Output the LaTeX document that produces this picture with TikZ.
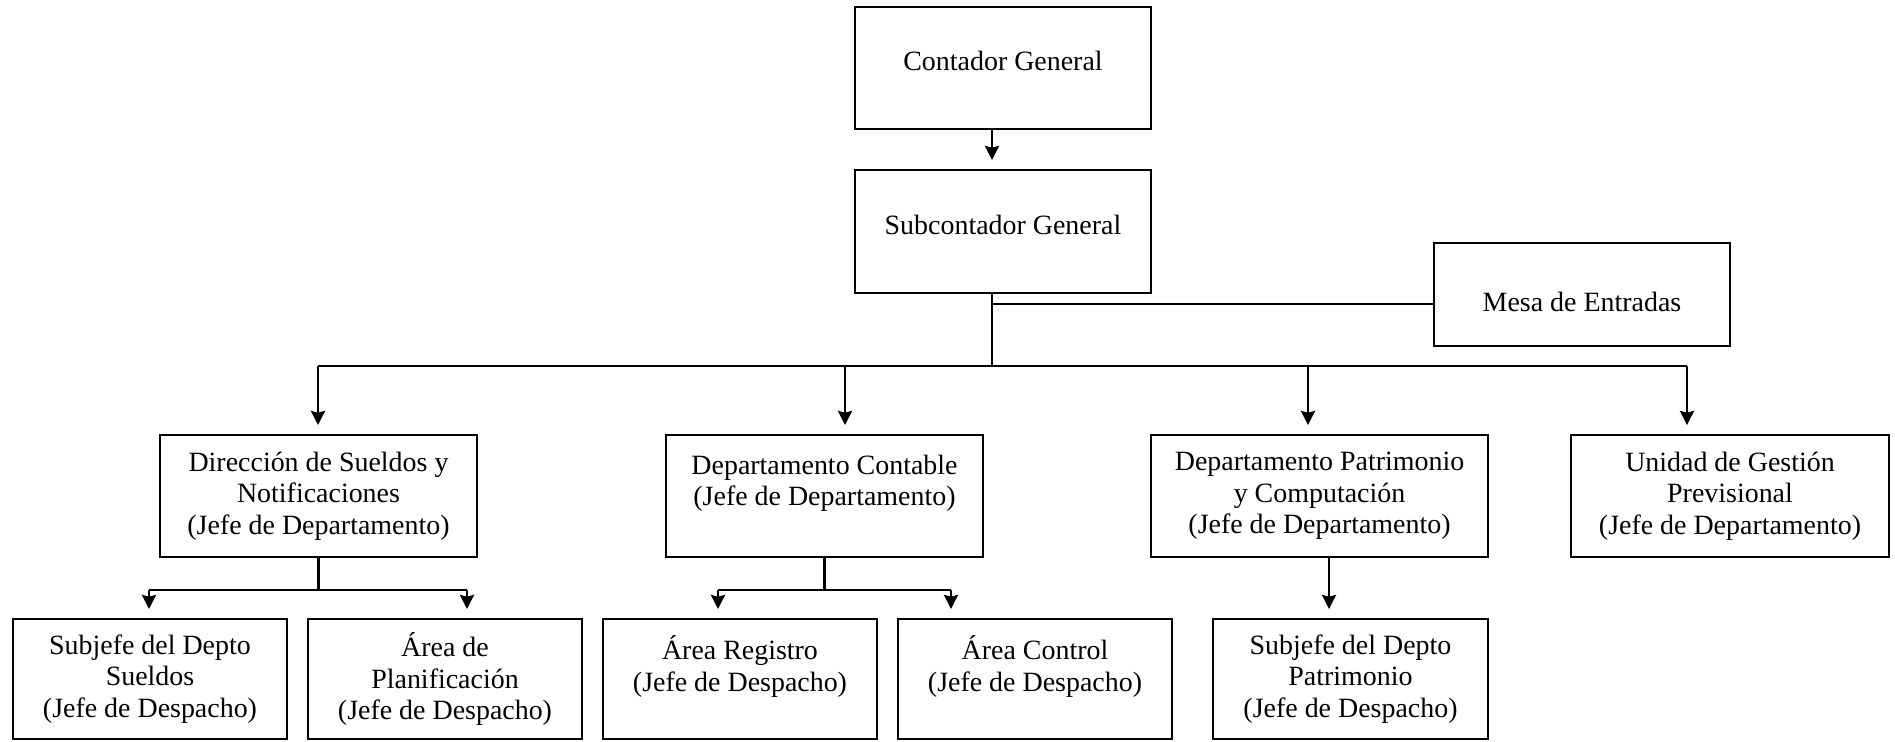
\documentclass[tikz,border=0pt]{standalone}
\usepackage{fontspec}
\setmainfont{Liberation Serif}
\usetikzlibrary{arrows.meta}

\begin{document}
\begin{tikzpicture}[x=0.02cm, y=-0.02cm,
  box/.style={draw, line width=1.4pt, rectangle, align=center, inner sep=2pt,
    font=\fontsize{15.9}{17.9}\selectfont, minimum height=2.44cm},
  arr/.style={line width=1.4pt, -{Stealth[length=8pt, width=8pt, inset=1pt]}, shorten >=5pt},
  link/.style={line width=1.4pt}]
  \useasboundingbox (0,0) rectangle (1895,741);

  % Top of the chart
  \node[box, minimum width=5.92cm, text depth=8pt] (cont) at (1003,68) {Contador General};
  \node[box, minimum width=5.92cm, minimum height=2.46cm, text depth=8pt] (sub) at (1003,231.5) {Subcontador General};
  \node[box, minimum width=5.92cm, minimum height=2.06cm, text height=19pt] (mesa) at (1582,294.5) {Mesa de Entradas};

  % Departments
  \node[box, minimum width=6.34cm] (dir) at (318.5,496) {Dirección de Sueldos y\\Notificaciones\\(Jefe de Departamento)};
  \node[box, minimum width=6.34cm] (conta) at (824.5,496) {Departamento Contable\\(Jefe de Departamento)\\ \mbox{}};
  \node[box, minimum width=6.74cm] (patr) at (1319.5,496) {Departamento Patrimonio\\y Computación\\(Jefe de Departamento)};
  \node[box, minimum width=6.36cm] (unid) at (1730,496) {Unidad de Gestión\\Previsional\\(Jefe de Departamento)};

  % Bottom row
  \node[box, minimum width=5.48cm, minimum height=2.40cm] (subS) at (150,679) {Subjefe del Depto\\Sueldos\\(Jefe de Despacho)};
  \node[box, minimum width=5.48cm, minimum height=2.40cm] (plan) at (445,679) {Área de\\Planificación\\(Jefe de Despacho)};
  \node[box, minimum width=5.48cm, minimum height=2.40cm] (reg) at (740,679) {Área Registro\\(Jefe de Despacho)\\ \mbox{}};
  \node[box, minimum width=5.48cm, minimum height=2.40cm] (ctrl) at (1035,679) {Área Control\\(Jefe de Despacho)\\ \mbox{}};
  \node[box, minimum width=5.50cm, minimum height=2.40cm] (subP) at (1350.5,679) {Subjefe del Depto\\Patrimonio\\(Jefe de Despacho)};

  % Trunk and main bus
  \coordinate (trunk) at (992,366);
  \coordinate (mesaL) at (992,304);
  \draw[arr] (trunk |- cont.south) -- (trunk |- sub.north); % Contador to Subcontador
  \draw[link] (trunk |- sub.south) -- (trunk);
  \draw[link] (mesaL) -- (mesaL -| mesa.west); % side branch
  \coordinate (busL) at (318,366);
  \coordinate (busR) at (1687,366);
  \draw[link] (busL) -- (busR);
  \foreach \n/\x in {dir/318, conta/845, patr/1308, unid/1687} {
    \coordinate (t\n) at (\x,366);
    \draw[arr] (t\n) -- (t\n |- \n.north); % down to each department
  }

  % Sueldos branch
  \coordinate (dL) at (149,590);
  \coordinate (dR) at (467,590);
  \draw[link] (dir.south) -- (dir.south |- dL);
  \draw[link] (dL) -- (dR);
  \draw[arr] (dL) -- (dL |- subS.north);
  \draw[arr] (dR) -- (dR |- plan.north);

  % Contable branch
  \coordinate (cL) at (718,590);
  \coordinate (cR) at (951,590);
  \draw[link] (conta.south) -- (conta.south |- cL);
  \draw[link] (cL) -- (cR);
  \draw[arr] (cL) -- (cL |- reg.north);
  \draw[arr] (cR) -- (cR |- ctrl.north);

  % Patrimonio branch
  \coordinate (pD) at (1329,0);
  \draw[arr] (pD |- patr.south) -- (pD |- subP.north);
\end{tikzpicture}
\end{document}
